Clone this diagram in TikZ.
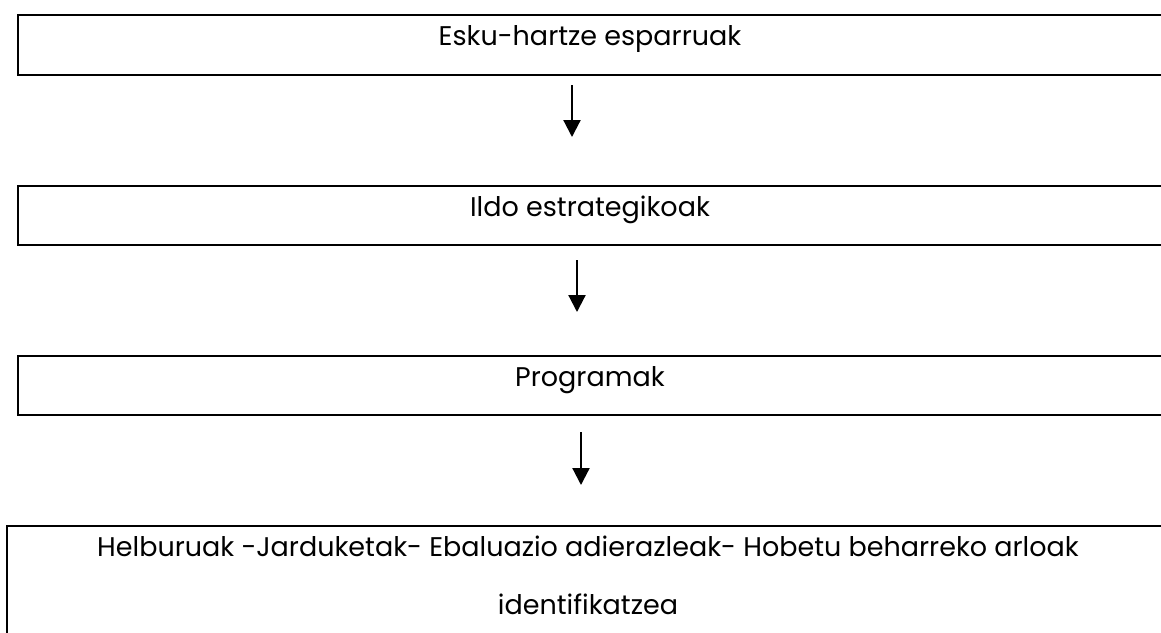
\documentclass[tikz,border=0pt]{standalone}
\usepackage{fontspec}
\setmainfont{Poppins}
\usetikzlibrary{arrows.meta}

\begin{document}
\begin{tikzpicture}[x=1pt, y=-1pt,
    frame/.style={draw=black, line width=2pt},
    boxtext/.style={anchor=base, font=\fontsize{27}{32}\selectfont},
    flowarrow/.style={line width=2.2pt, -{Triangle[length=17pt,width=17pt]}}]
    \useasboundingbox (0,0) rectangle (1161,632);

    % Stacked frames, right side runs past the page
    \draw[frame] (18,15) rectangle (1175,75);
    \draw[frame] (18,186) rectangle (1175,245);
    \draw[frame] (18,356) rectangle (1175,415);
    \draw[frame] (7,526) rectangle (1175,660);

    % Frame labels
    \node[boxtext] (esparru) at (590,45) {Esku-hartze esparruak};
    \node[boxtext] (ildo) at (590,216) {Ildo estrategikoak};
    \node[boxtext] (program) at (590,386) {Programak};
    \node[boxtext] (helburu) at (588,556) {Helburuak -Jarduketak- Ebaluazio adierazleak- Hobetu beharreko arloak};
    \node[boxtext] (identif) at (588,614) {identifikatzea};

    % Arrows between frames
    \coordinate (a1s) at (572,85);  \coordinate (a1e) at (572,137);
    \coordinate (a2s) at (577,260); \coordinate (a2e) at (577,312);
    \coordinate (a3s) at (581,432); \coordinate (a3e) at (581,485);
    \draw[flowarrow] (a1s) -- (a1e);
    \draw[flowarrow] (a2s) -- (a2e);
    \draw[flowarrow] (a3s) -- (a3e);
\end{tikzpicture}
\end{document}
